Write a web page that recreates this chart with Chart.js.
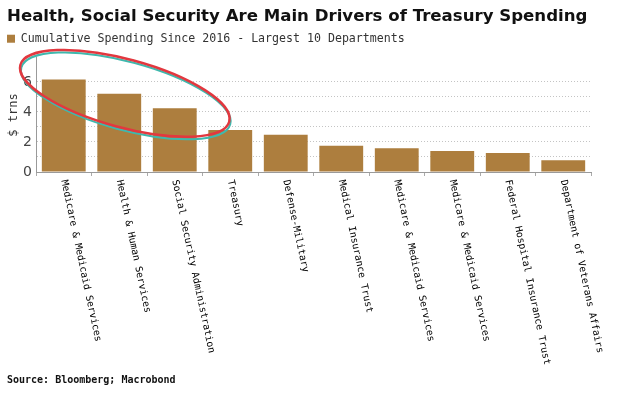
<!DOCTYPE html>
<html>
<head>
<meta charset="utf-8">
<script src="https://cdn.jsdelivr.net/npm/chart.js@4/dist/chart.umd.min.js"></script>
<style>
  html, body { margin: 0; padding: 0; background: #fff; }
  #wrap { width: 619px; height: 398px; }
</style>
</head>
<body>
<div id="wrap"><canvas id="spending"></canvas></div>
<script>
// data ($ trillions)
const departments = [
    'Medicare & Medicaid Services',
    'Health & Human Services',
    'Social Security Administration',
    'Treasury',
    'Defense-Military',
    'Medical Insurance Trust',
    'Medicare & Medicaid Services',
    'Medicare & Medicaid Services',
    'Federal Hospital Insurance Trust',
    'Department of Veterans Affairs'
];
const spending = [6.17, 5.22, 4.24, 2.8, 2.48, 1.75, 1.58, 1.4, 1.27, 0.78];
const yTickLabels = [0, 2, 4, 6];

const barColor = '#ad7e3e';
const monoFont = "'DejaVu Sans Mono', 'Liberation Mono', monospace";

// rotated category names under the axis (top-to-bottom reading)
const slantedLabels = {
    id: 'slantedLabels',
    afterDraw(chart) {
        const x = chart.scales.x;
        const ctx = chart.ctx;
        ctx.save();
        ctx.font = '9.8px ' + monoFont;
        ctx.fillStyle = '#000';
        ctx.textAlign = 'left';
        ctx.textBaseline = 'middle';
        departments.forEach((name, i) => {
            ctx.save();
            ctx.translate(x.getPixelForValue(i), chart.chartArea.bottom + 8);
            ctx.rotate(78 * Math.PI / 180);
            ctx.fillText(name, 0, 0);
            ctx.restore();
        });
        ctx.restore();
    }
};

// the red hand-drawn ring round the first three bars
const highlightRing = {
    id: 'highlightRing',
    afterDatasetsDraw(chart) {
        const x = chart.scales.x, y = chart.scales.y;
        const ctx = chart.ctx;
        const step = x.getPixelForValue(1) - x.getPixelForValue(0);
        const unit = y.getPixelForValue(0) - y.getPixelForValue(1);
        const cx = x.getPixelForValue(1.1);
        const cy = y.getPixelForValue(5.24);
        const rx = step * 1.95;
        const ry = unit * 2.27;
        const tilt = 15.2 * Math.PI / 180;
        ctx.save();
        ctx.lineWidth = 2;
        ctx.strokeStyle = '#3fb8ad';
        ctx.beginPath();
        ctx.ellipse(cx + 1, cy + 2.5, rx, ry, tilt, 0, Math.PI * 2);
        ctx.stroke();
        ctx.lineWidth = 2.5;
        ctx.strokeStyle = '#e2383f';
        ctx.beginPath();
        ctx.ellipse(cx, cy, rx, ry, tilt, 0, Math.PI * 2);
        ctx.stroke();
        ctx.restore();
    }
};

// a bit more room between legend and plot
const legendGap = {
    id: 'legendGap',
    beforeInit(chart) {
        const fit = chart.legend.fit;
        chart.legend.fit = function () {
            fit.call(this);
            this.height += 3.4;
        };
    }
};

new Chart(document.getElementById('spending'), {
    type: 'bar',
    data: {
        labels: departments,
        datasets: [{
            label: 'Cumulative Spending Since 2016 - Largest 10 Departments',
            data: spending,
            backgroundColor: barColor,
            borderWidth: 0,
            barPercentage: 0.79,
            categoryPercentage: 1.0
        }]
    },
    options: {
        responsive: true,
        maintainAspectRatio: false,
        animation: false,
        layout: { padding: { left: 7, right: 28, top: 0, bottom: 0 } },
        plugins: {
            title: {
                display: true,
                text: 'Health, Social Security Are Main Drivers of Treasury Spending',
                align: 'start',
                color: '#111',
                font: { family: "'DejaVu Sans', sans-serif", size: 16.6, weight: 'bold', lineHeight: 1.2 },
                padding: { top: 7, bottom: 6 }
            },
            legend: {
                display: true,
                position: 'top',
                align: 'start',
                labels: {
                    boxWidth: 8,
                    boxHeight: 8,
                    padding: 0,
                    color: '#333',
                    font: { family: monoFont, size: 11.6 }
                }
            },
            subtitle: {
                display: true,
                position: 'bottom',
                align: 'start',
                text: 'Source: Bloomberg; Macrobond',
                color: '#111',
                font: { family: monoFont, size: 10, weight: 'bold', lineHeight: 1.2 },
                padding: { top: 0, bottom: 12 }
            },
            tooltip: { enabled: false }
        },
        scales: {
            x: {
                ticks: { display: false },
                grid: { drawOnChartArea: false, drawTicks: true, tickLength: 4, color: '#aaa' },
                border: { display: true, color: '#9a9a9a', width: 1 },
                afterFit(scale) { scale.height = 202; }
            },
            y: {
                min: 0,
                max: 7.6,
                ticks: {
                    stepSize: 1,
                    autoSkip: false,
                    padding: 4,
                    color: '#444',
                    font: { family: "'DejaVu Sans', sans-serif", size: 14, lineHeight: 1 },
                    callback: v => yTickLabels.includes(v) ? String(v) : ''
                },
                grid: {
                    drawTicks: false,
                    color: c => Number.isInteger(c.tick.value) ? '#c4c4c4' : 'rgba(0,0,0,0)'
                },
                border: { display: true, color: '#9a9a9a', width: 1, dash: [1, 2] },
                title: {
                    display: true,
                    text: '$ trns',
                    color: '#333',
                    font: { family: monoFont, size: 12 },
                    padding: { top: 0, bottom: 0 }
                },
                afterFit(scale) { scale.width = 29; }
            }
        }
    },
    plugins: [slantedLabels, highlightRing, legendGap]
});
</script>
</body>
</html>
